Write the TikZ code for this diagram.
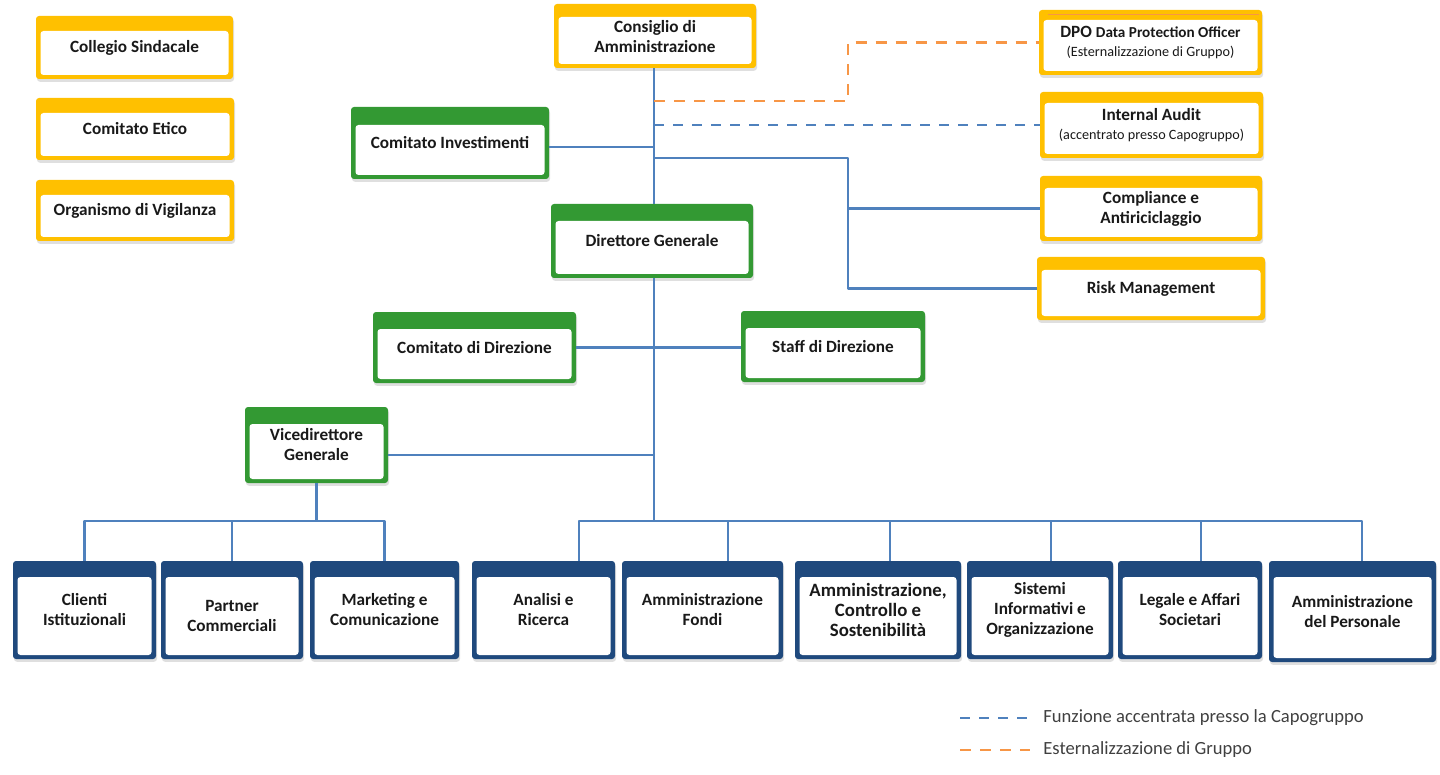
\documentclass[tikz,border=0pt]{standalone}
\usepackage{fontspec}
\setmainfont{Carlito}
\usetikzlibrary{shadows,backgrounds}
\definecolor{gold}{HTML}{FFC000}
\definecolor{grn}{HTML}{339933}
\definecolor{dblue}{HTML}{1F497D}
\definecolor{lnblue}{HTML}{4F81BD}
\definecolor{orng}{HTML}{F79646}
\definecolor{legtxt}{HTML}{404040}
\tikzset{
  band/.store in=\bandh, band=15,
  orgbox/.style={rectangle, rounded corners=1.5pt, inner sep=0pt, align=center,
    font=\fontsize{8.6}{10}\selectfont\bfseries, text=black!90,
    drop shadow={shadow xshift=0.5pt, shadow yshift=-1.4pt, opacity=0.25},
    path picture={\fill[white] ([shift={(2.25pt,-\bandh*0.5pt)}]path picture bounding box.north west) rectangle ([shift={(-2.25pt,2pt)}]path picture bounding box.south east);}},
  ybox/.style={orgbox, fill=gold},
  gbox/.style={orgbox, fill=grn, band=17},
  bbox/.style={orgbox, fill=dblue, band=16},
  conn/.style={draw=lnblue, line width=1.25pt, line join=round},
  dashb/.style={draw=lnblue, line width=1.4pt, dash pattern=on 5pt off 4.5pt},
  dasho/.style={draw=orng, line width=1.4pt, dash pattern=on 5.5pt off 4.5pt},
  legtext/.style={font=\fontsize{9.3}{11}\selectfont, text=legtxt, inner sep=0pt, anchor=west}
}
\newcommand\obx[7]{\node[#1, minimum width={(#5-#3)*0.5pt}, minimum height={(#6-#4)*0.5pt}] (#2) at ({(#3+#5)/2},{(#4+#6)/2}) {#7};}
\begin{document}
\begin{tikzpicture}[x=0.5pt,y=-0.5pt]
\useasboundingbox (0,0) rectangle (1440,775);
% yellow boxes
\obx{ybox}{coll}{36}{16}{233}{79}{Collegio Sindacale}
\obx{ybox}{etico}{36}{98}{234}{160}{Comitato Etico}
\obx{ybox}{odv}{36}{180}{234}{241}{Organismo di Vigilanza}
\obx{ybox, band=13}{cda}{554}{4}{756}{68}{\raisebox{-1.5pt}[\height][\depth]{\begin{tabular}{@{}c@{}}Consiglio di\\Amministrazione\end{tabular}}}
\obx{ybox, band=10}{dpo}{1039}{10}{1262}{75}{DPO {\fontsize{7.6}{10}\selectfont Data Protection Officer}\\[-0.5pt]{\mdseries\fontsize{7.1}{10}\selectfont (Esternalizzazione di Gruppo)}}
\obx{ybox, band=11}{ia}{1040}{92}{1263}{158}{Internal Audit\\[-0.5pt]{\mdseries\fontsize{7.1}{10}\selectfont (accentrato presso Capogruppo)}}
\obx{ybox, band=12}{comp}{1040}{176}{1262}{241}{Compliance e\\Antiriciclaggio}
\obx{ybox, band=13}{risk}{1037}{257}{1265}{320}{Risk Management}
\draw[orng, line width=0.5pt] (1048,15) -- (1259,15);
% green boxes
\obx{gbox, band=18}{cinv}{351}{107}{549}{179}{Comitato Investimenti}
\obx{gbox}{dg}{551}{204}{753}{278}{Direttore Generale}
\obx{gbox}{cdir}{373}{312}{576}{383}{Comitato di Direzione}
\obx{gbox}{staff}{741}{311}{925}{382}{Staff di Direzione}
\obx{gbox}{vdg}{245}{407}{388}{483}{Vicedirettore\\Generale}
% blue boxes
\obx{bbox}{cli}{13}{561}{156}{659}{Clienti\\Istituzionali}
\obx{bbox}{par}{161}{561}{303}{659}{\raisebox{-3.5pt}[\height][\depth]{\begin{tabular}{@{}c@{}}Partner\\Commerciali\end{tabular}}}
\obx{bbox}{mkt}{310}{561}{459}{659}{Marketing e\\Comunicazione}
\obx{bbox}{ana}{472}{561}{615}{659}{Analisi e\\Ricerca}
\obx{bbox}{afo}{622}{561}{783}{659}{Amministrazione\\Fondi}
\obx{bbox, font=\fontsize{9.4}{10}\selectfont\bfseries}{acs}{795}{561}{961}{659}{Amministrazione,\\Controllo e\\Sostenibilità}
\obx{bbox}{sio}{967}{561}{1113}{659}{Sistemi\\Informativi e\\Organizzazione}
\obx{bbox}{leg}{1118}{561}{1262}{659}{Legale e Affari\\Societari}
\obx{bbox}{adp}{1269}{561}{1436}{662}{Amministrazione\\del Personale}
% connectors
\coordinate (tx) at (654,0);
\coordinate (busy) at (0,521);
\coordinate (rx) at (848,158);
\coordinate (ox) at (848,101);
\draw[conn] (tx |- cda.south) -- (tx |- dg.north);
\draw[conn] ([yshift=-2pt]cinv.east) -- ([yshift=-2pt]cinv.east -| tx);
\draw[conn] (tx |- rx) -- (rx) -- (rx |- risk.west) -- (risk.west);
\draw[conn] (rx |- comp.west) -- (comp.west);
\draw[dasho] (tx |- ox) -- (ox) -- (ox |- dpo.west) -- (dpo.west);
\draw[dashb] (tx |- ia.west) -- (ia.west);
\draw[conn] (tx |- dg.south) -- (tx |- busy);
\draw[conn] (cdir.east) -- (cdir.east -| staff.west);
\draw[conn] ([yshift=-5pt]vdg.east) -- ([yshift=-5pt]vdg.east -| tx);
\draw[conn] (vdg.south) -- (vdg.south |- busy);
\draw[conn] (cli.north) -- (cli.north |- busy) -- (mkt.north |- busy) -- (mkt.north);
\draw[conn] (par.north) -- (par.north |- busy);
\coordinate (b1) at (579,521);
\coordinate (b2) at (728,521);
\coordinate (b3) at (890,521);
\coordinate (b4) at (1051,521);
\coordinate (b5) at (1201,521);
\coordinate (b6) at (1362,521);
\draw[conn] (b1 |- ana.north) -- (b1) -- (b6) -- (b6 |- adp.north);
\draw[conn] (b2) -- (b2 |- afo.north);
\draw[conn] (b3) -- (b3 |- acs.north);
\draw[conn] (b4) -- (b4 |- sio.north);
\draw[conn] (b5) -- (b5 |- leg.north);
% legend
\coordinate (l1) at (960,718);
\coordinate (l2) at (960,750);
\node[legtext] (l1t) at (1043,718) {Funzione accentrata presso la Capogruppo};
\node[legtext] (l2t) at (1043,750) {Esternalizzazione di Gruppo};
\draw[dashb] (l1) -- ([xshift=-6.5pt]l1t.west);
\draw[dasho] (l2) -- ([xshift=-6.5pt]l2t.west);
\end{tikzpicture}
\end{document}
